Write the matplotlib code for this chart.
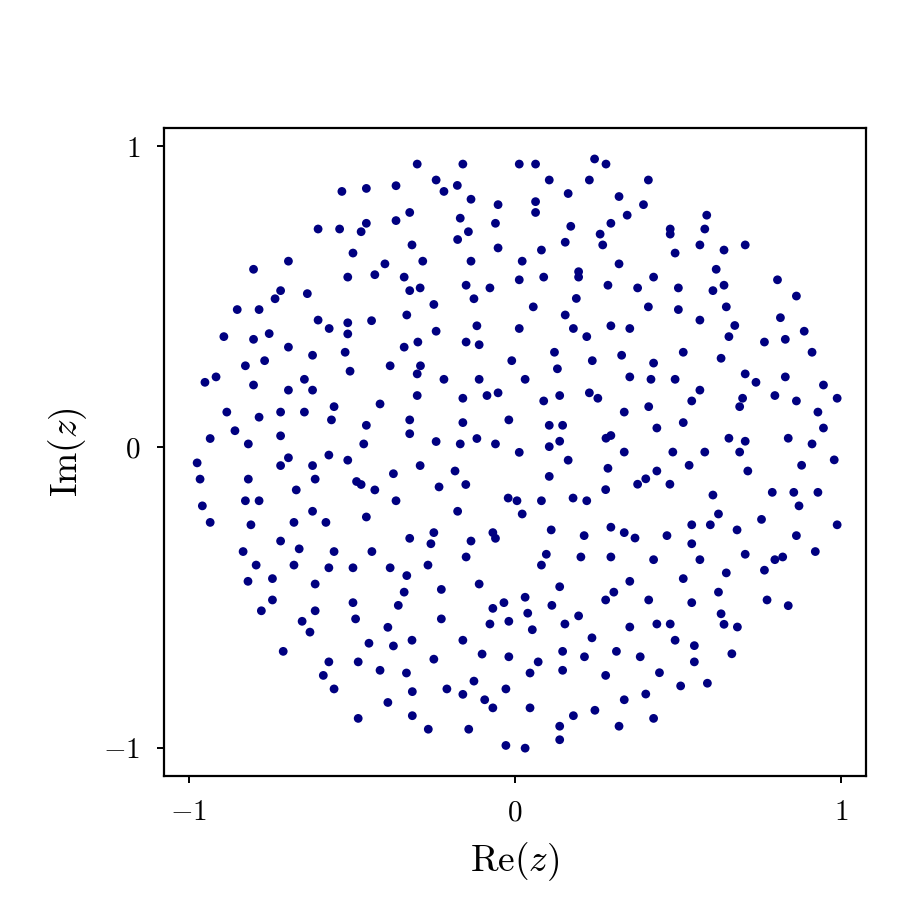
import matplotlib
matplotlib.use("Agg")
import matplotlib.pyplot as plt

plt.rcParams["mathtext.fontset"] = "cm"
plt.rcParams["font.family"] = "serif"
plt.rcParams["font.serif"] = ["cmr10", "DejaVu Serif"]

re_vals = [
    # upper-left
    -0.531, -0.604, -0.538, -0.497, -0.695, -0.802, -0.513, -0.719, -0.736, -0.637,
    -0.852, -0.785, -0.604, -0.570, -0.513, -0.513, -0.893, -0.802, -0.754, -0.695,
    -0.621, -0.521,
    # upper centre-left
    -0.300, -0.160, 0.013, -0.456, -0.365, -0.242, -0.218, -0.177, -0.135, -0.052,
    -0.323, -0.365, -0.456, -0.472, -0.168, -0.060, -0.143, -0.176, -0.316, -0.052,
    -0.399, -0.283, -0.135, 0.022, -0.430, -0.340, 0.013, -0.323, -0.291, -0.150,
    -0.077, -0.126, -0.249, -0.440, -0.332, -0.117, 0.013, -0.242, -0.298, -0.340,
    -0.150, -0.110,
    # upper centre-right
    0.063, 0.244, 0.279, 0.105, 0.228, 0.409, 0.163, 0.319, 0.063, 0.063,
    0.394, 0.344, 0.588, 0.171, 0.294, 0.261, 0.476, 0.476, 0.582, 0.154,
    0.269, 0.081, 0.491, 0.567, 0.319, 0.195, 0.195, 0.088, 0.285, 0.376,
    0.425, 0.501, 0.188, 0.056, 0.154, 0.409, 0.501, 0.567, 0.179, 0.294,
    0.352, 0.220, 0.121, 0.327, 0.516,
    # upper-right
    0.641, 0.706, 0.617, 0.641, 0.607, 0.805, 0.863, 0.648, 0.814, 0.674,
    0.656, 0.765, 0.829, 0.887, 0.911,
    # middle-left
    -0.827, -0.768, -0.917, -0.951, -0.802, -0.646, -0.506, -0.695, -0.621, -0.555,
    -0.563, -0.884, -0.785, -0.719, -0.646, -0.859, -0.935, -0.818, -0.719, -0.975,
    -0.695, -0.719, -0.621, -0.571, -0.513, -0.966, -0.818, -0.613, -0.671, -0.959,
    -0.827, -0.785, -0.621, -0.935, -0.810, -0.678, -0.580, -0.719, -0.662, -0.834,
    -0.555,
    # middle centre-left
    -0.010, -0.383, -0.290, -0.300, -0.218, -0.110, 0.031, -0.300, -0.414, -0.160,
    -0.086, -0.052, -0.456, -0.323, -0.323, -0.160, -0.019, -0.464, -0.242, -0.168,
    -0.117, -0.060, 0.013, -0.291, -0.373, -0.184, -0.486, -0.472, -0.430, -0.233,
    -0.151, -0.365, -0.021, 0.006, -0.176, 0.022, -0.456, -0.323, -0.249, -0.258,
    -0.135, -0.068, -0.060, -0.439, -0.150,
    # middle centre-right
    0.237, 0.425, 0.130, 0.352, 0.417, 0.491, 0.567, 0.088, 0.137, 0.228,
    0.254, 0.410, 0.542, 0.335, 0.105, 0.146, 0.435, 0.516, 0.279, 0.294,
    0.105, 0.137, 0.335, 0.484, 0.582, 0.163, 0.534, 0.285, 0.435, 0.105,
    0.401, 0.376, 0.475, 0.278, 0.081, 0.178, 0.220, 0.111, 0.212, 0.294,
    0.335, 0.368, 0.466, 0.542, 0.542, 0.096, 0.202, 0.294, 0.425, 0.567,
    # middle-right
    0.632, 0.706, 0.739, 0.829, 0.946, 0.698, 0.689, 0.797, 0.863, 0.988,
    0.929, 0.946, 0.656, 0.706, 0.838, 0.911, 0.689, 0.979, 0.879, 0.714,
    0.607, 0.789, 0.855, 0.929, 0.871, 0.624, 0.599, 0.756, 0.681, 0.988,
    0.863, 0.706, 0.797, 0.821, 0.921,
    # lower-left
    -0.794, -0.678, -0.571, -0.497, -0.819, -0.744, -0.613, -0.744, -0.778, -0.613,
    -0.497, -0.489, -0.653, -0.629, -0.711, -0.571, -0.481, -0.588, -0.555, -0.481,
    # lower centre-left
    -0.383, -0.267, -0.332, -0.340, -0.226, -0.110, -0.358, -0.226, -0.390, -0.448,
    -0.373, -0.316, -0.160, -0.414, -0.333, -0.249, -0.101, -0.019, -0.068, -0.034,
    0.031, 0.039, -0.077, -0.019, 0.053, -0.315, -0.390, -0.209, -0.160, -0.126,
    -0.093, -0.068, -0.028, 0.046, -0.315, -0.266, -0.142, -0.028, 0.031, 0.046,
    # lower centre-right
    0.081, 0.137, 0.352, 0.516, 0.303, 0.278, 0.410, 0.542, 0.113, 0.195,
    0.153, 0.352, 0.435, 0.476, 0.236, 0.491, 0.550, 0.146, 0.213, 0.311,
    0.384, 0.071, 0.550, 0.146, 0.278, 0.443, 0.508, 0.590, 0.401, 0.335,
    0.179, 0.245, 0.425, 0.137, 0.319, 0.137,
    # lower-right
    0.648, 0.765, 0.624, 0.773, 0.838, 0.632, 0.641, 0.682, 0.665,
]

# Imaginary parts of the eigenvalues (same order)
im_vals = [
    # upper-left
    0.850, 0.725, 0.725, 0.645, 0.618, 0.591, 0.565, 0.520, 0.493, 0.510,
    0.457, 0.457, 0.422, 0.394, 0.413, 0.376, 0.367, 0.358, 0.377, 0.332,
    0.305, 0.315,
    # upper centre-left
    0.941, 0.941, 0.941, 0.860, 0.869, 0.888, 0.850, 0.870, 0.824, 0.806,
    0.780, 0.753, 0.744, 0.716, 0.761, 0.744, 0.716, 0.690, 0.672, 0.662,
    0.609, 0.618, 0.618, 0.618, 0.573, 0.565, 0.556, 0.520, 0.529, 0.538,
    0.529, 0.493, 0.474, 0.420, 0.439, 0.403, 0.394, 0.385, 0.349, 0.332,
    0.349, 0.340,
    # upper centre-right
    0.941, 0.958, 0.941, 0.888, 0.888, 0.888, 0.843, 0.833, 0.816, 0.780,
    0.806, 0.771, 0.771, 0.734, 0.744, 0.708, 0.725, 0.708, 0.725, 0.681,
    0.672, 0.655, 0.645, 0.672, 0.609, 0.583, 0.565, 0.565, 0.538, 0.529,
    0.565, 0.529, 0.494, 0.466, 0.439, 0.466, 0.457, 0.422, 0.394, 0.403,
    0.394, 0.367, 0.315, 0.305, 0.315,
    # upper-right
    0.655, 0.672, 0.591, 0.538, 0.520, 0.556, 0.502, 0.466, 0.430, 0.404,
    0.367, 0.349, 0.358, 0.385, 0.315,
    # middle-left
    0.270, 0.287, 0.233, 0.215, 0.206, 0.225, 0.252, 0.189, 0.189, 0.134,
    0.090, 0.116, 0.099, 0.116, 0.116, 0.054, 0.028, 0.010, 0.037, -0.053,
    -0.036, -0.062, -0.062, -0.027, -0.044, -0.107, -0.107, -0.107, -0.143, -0.196,
    -0.179, -0.179, -0.214, -0.251, -0.259, -0.251, -0.251, -0.313, -0.339, -0.348,
    -0.348,
    # middle centre-left
    0.287, 0.270, 0.270, 0.243, 0.225, 0.225, 0.225, 0.171, 0.143, 0.162,
    0.171, 0.180, 0.072, 0.090, 0.044, 0.081, 0.090, 0.010, 0.018, 0.010,
    0.028, 0.010, -0.018, -0.062, -0.089, -0.080, -0.115, -0.125, -0.143, -0.133,
    -0.125, -0.179, -0.170, -0.179, -0.214, -0.223, -0.233, -0.304, -0.285, -0.322,
    -0.313, -0.285, -0.304, -0.348, -0.366,
    # middle centre-right
    0.287, 0.279, 0.260, 0.233, 0.225, 0.225, 0.189, 0.153, 0.171, 0.180,
    0.162, 0.134, 0.153, 0.116, 0.072, 0.072, 0.063, 0.081, 0.029, 0.038,
    0.001, 0.019, -0.017, -0.017, -0.017, -0.044, -0.061, -0.071, -0.080, -0.098,
    -0.106, -0.124, -0.124, -0.142, -0.179, -0.170, -0.179, -0.276, -0.295, -0.267,
    -0.285, -0.303, -0.295, -0.259, -0.322, -0.357, -0.366, -0.366, -0.375, -0.375,
    # middle-right
    0.295, 0.243, 0.215, 0.233, 0.206, 0.162, 0.134, 0.171, 0.153, 0.162,
    0.116, 0.063, 0.029, 0.019, 0.029, 0.010, -0.017, -0.043, -0.061, -0.080,
    -0.160, -0.151, -0.151, -0.151, -0.196, -0.223, -0.259, -0.241, -0.276, -0.259,
    -0.295, -0.357, -0.375, -0.366, -0.348,
    # lower-left
    -0.393, -0.393, -0.402, -0.402, -0.447, -0.438, -0.456, -0.509, -0.545, -0.545,
    -0.518, -0.572, -0.580, -0.616, -0.680, -0.715, -0.715, -0.760, -0.805, -0.903,
    # lower centre-left
    -0.402, -0.393, -0.428, -0.483, -0.474, -0.456, -0.527, -0.572, -0.600, -0.653,
    -0.662, -0.643, -0.643, -0.743, -0.752, -0.706, -0.689, -0.698, -0.537, -0.518,
    -0.500, -0.553, -0.589, -0.580, -0.608, -0.814, -0.850, -0.805, -0.823, -0.779,
    -0.841, -0.868, -0.805, -0.868, -0.894, -0.939, -0.939, -0.993, -1.002, -0.752,
    # lower centre-right
    -0.393, -0.465, -0.447, -0.438, -0.483, -0.509, -0.509, -0.518, -0.527, -0.562,
    -0.589, -0.599, -0.589, -0.589, -0.635, -0.643, -0.661, -0.680, -0.698, -0.680,
    -0.698, -0.715, -0.715, -0.743, -0.760, -0.751, -0.795, -0.786, -0.822, -0.841,
    -0.894, -0.876, -0.903, -0.929, -0.929, -0.974,
    # lower-right
    -0.419, -0.410, -0.483, -0.509, -0.528, -0.555, -0.590, -0.599, -0.688,
]

tick_vals = [-1, 0, 1]
tick_labels = [r"$-1$", r"$0$", r"$1$"]

fig = plt.figure(figsize=(4.565, 4.565), dpi=200)
ax = fig.add_axes([0.1796, 0.150, 0.769, 0.710])

ax.scatter(re_vals, im_vals, s=10, marker="o", color="#000080",
           edgecolors="none", zorder=3)

ax.set_xlim(-1.0767, 1.0767)
ax.set_ylim(-1.0948, 1.0616)
ax.set_xticks(tick_vals)
ax.set_xticklabels(tick_labels)
ax.set_yticks(tick_vals)
ax.set_yticklabels(tick_labels)
ax.tick_params(labelsize=10.5, length=2.5, width=0.7, direction="out", pad=6)
for sp in ax.spines.values():
    sp.set_linewidth(0.8)

ax.set_xlabel(r"$\mathrm{Re}(z)$", fontsize=13.5, labelpad=5)
ax.set_ylabel(r"$\mathrm{Im}(z)$", fontsize=13.5, labelpad=5)

fig.savefig("out.png", dpi=200, facecolor="white")
